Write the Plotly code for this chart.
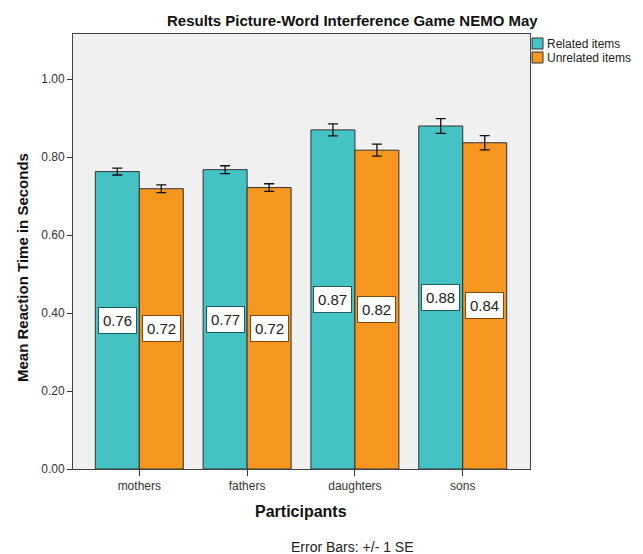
import plotly.graph_objects as go

categories = ["mothers", "fathers", "daughters", "sons"]
series_names = ["Related items", "Unrelated items"]
related_means = [0.763, 0.768, 0.870, 0.880]
unrelated_means = [0.719, 0.722, 0.818, 0.837]
related_se = [0.0087, 0.0100, 0.0154, 0.0187]
unrelated_se = [0.0098, 0.0098, 0.0154, 0.0185]
related_labels = ["0.76", "0.77", "0.87", "0.88"]
unrelated_labels = ["0.72", "0.72", "0.82", "0.84"]
y_ticks = [0.0, 0.2, 0.4, 0.6, 0.8, 1.0]

TEAL = "#45C2C4"
ORANGE = "#F7961F"
FONT = "Liberation Sans, Arial, sans-serif"

OFF = 8  # browser body margin
W, H = 643 - OFF, 554 - OFF
PLEFT, PRIGHT, PTOP, PBOT = 73, 530, 34, 469  # plot box in page pixels
L, T = PLEFT - OFF, PTOP - OFF
PW, PH = PRIGHT - PLEFT, PBOT - PTOP
R, B = W - L - PW, H - T - PH

def px_x(p):
    return (p - PLEFT) / PW

def px_y(p):
    return (PBOT - p) / PH

bar_w = 0.408
xs = list(range(len(categories)))

fig = go.Figure()
series = [
    (series_names[0], related_means, related_se, TEAL, -bar_w / 2),
    (series_names[1], unrelated_means, unrelated_se, ORANGE, bar_w / 2),
]
for name, vals, se, col, off in series:
    fig.add_trace(go.Bar(
        x=xs, y=vals, name=name, width=bar_w, offset=off - bar_w / 2,
        marker=dict(color=col, line=dict(color="#333333", width=1)),
        error_y=dict(type="data", array=se, visible=True, color="#111111",
                     thickness=1.3, width=5),
        showlegend=False,
    ))

annotations = []
box_specs = [
    (related_means, related_labels, -bar_w / 2, "#1d5b5d"),
    (unrelated_means, unrelated_labels, bar_w / 2, "#7a4a10"),
]
for vals, labels, off, bc in box_specs:
    for i, (v, t) in enumerate(zip(vals, labels)):
        annotations.append(dict(
            x=i + off, y=v / 2, xref="x", yref="y", text=t, showarrow=False,
            font=dict(family=FONT, size=15, color="#222222"),
            bgcolor="white", bordercolor=bc, borderwidth=1, borderpad=4,
        ))

# legend (custom)
shapes = []
leg_cols = [TEAL, ORANGE]
leg_centers = [43.5, 57.5]
for name, col, cy in zip(series_names, leg_cols, leg_centers):
    shapes.append(dict(type="rect", xref="paper", yref="paper",
                       x0=px_x(532), x1=px_x(543), y0=px_y(cy + 5.5), y1=px_y(cy - 5.5),
                       fillcolor=col, line=dict(color="#333333", width=1)))
    annotations.append(dict(x=px_x(545), y=px_y(cy), xref="paper", yref="paper",
                            text=name, showarrow=False, xanchor="left", yanchor="middle",
                            font=dict(family=FONT, size=12, color="#222222")))

annotations.append(dict(x=px_x(22), y=px_y(268), xref="paper", yref="paper",
                        text="<b>Mean Reaction Time in Seconds</b>", textangle=-90,
                        showarrow=False, xanchor="center", yanchor="middle",
                        font=dict(family=FONT, size=15, color="#111111")))
annotations.append(dict(x=px_x(301), y=px_y(512), xref="paper", yref="paper",
                        text="<b>Participants</b>", showarrow=False,
                        xanchor="center", yanchor="middle",
                        font=dict(family=FONT, size=16, color="#111111")))
annotations.append(dict(x=px_x(352), y=px_y(547), xref="paper", yref="paper",
                        text="Error Bars: +/- 1 SE", showarrow=False,
                        xanchor="center", yanchor="middle",
                        font=dict(family=FONT, size=14, color="#222222")))
annotations.append(dict(x=px_x(352), y=px_y(20), xref="paper", yref="paper",
                        text="<b>Results Picture-Word Interference Game NEMO May</b>",
                        showarrow=False, xanchor="center", yanchor="middle",
                        font=dict(family=FONT, size=15, color="#111111")))

fig.update_layout(
    width=W, height=H,
    margin=dict(l=L, r=R, t=T, b=B),
    paper_bgcolor="white", plot_bgcolor="#F0F0F0",
    barmode="overlay",
    xaxis=dict(range=[-0.615, 3.624], tickmode="array", tickvals=xs, ticktext=categories,
               ticks="outside", ticklen=6, tickcolor="#333333", showgrid=False,
               zeroline=False, showline=True, linecolor="#444444", linewidth=1, mirror=True,
               tickfont=dict(family=FONT, size=12, color="#333333")),
    yaxis=dict(range=[0, 1.116], tickmode="array", tickvals=y_ticks,
               ticktext=[f"{v:.2f}" for v in y_ticks],
               ticks="outside", ticklen=5, tickcolor="#333333", showgrid=False,
               zeroline=False, showline=True, linecolor="#444444", linewidth=1, mirror=True,
               tickfont=dict(family=FONT, size=12, color="#333333")),
    annotations=annotations,
    shapes=shapes,
)

fig.write_html("out.html")
